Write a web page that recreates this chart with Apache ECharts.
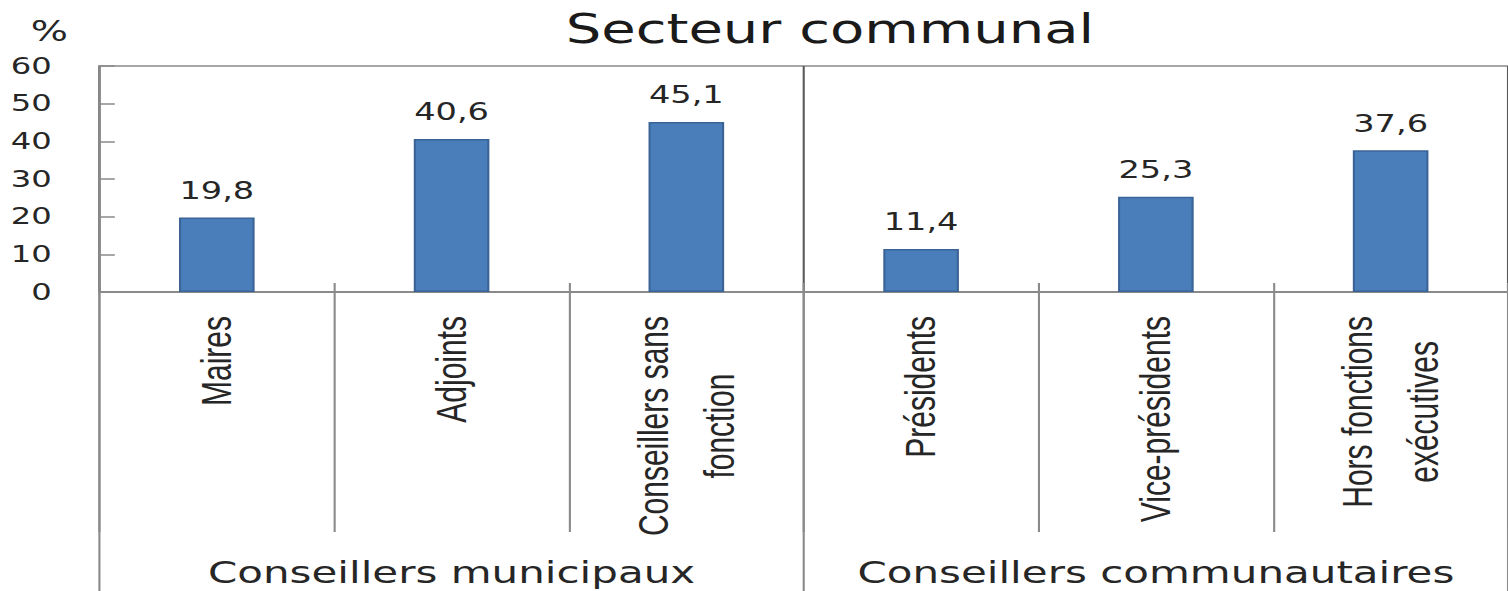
<!DOCTYPE html>
<html>
<head>
<meta charset="utf-8">
<script src="https://cdn.jsdelivr.net/npm/echarts@6/dist/echarts.min.js"></script>
<style>
  html, body { margin: 0; padding: 0; background: #fff; overflow: hidden; }
  /* the source picture is stretched horizontally, so the chart is drawn narrower and scaled */
  #main { width: 1077px; height: 591px; transform: scaleX(1.4002); transform-origin: 0 0; }
</style>
</head>
<body>
<div id="main"></div>
<script>
  // données
  const categories = ['Maires', 'Adjoints', 'Conseillers sans\nfonction', 'Présidents', 'Vice-présidents', 'Hors fonctions\nexécutives'];
  const values = [19.8, 40.6, 45.1, 11.4, 25.3, 37.6];
  const groups = ['Conseillers municipaux', 'Conseillers communautaires'];
  const yMin = 0;
  const yMax = 60;
  const yStep = 10;

  const axisColor = '#8a8a8a';
  const textColor = '#262626';
  const numFont = '"DejaVu Sans"';
  const catFont = '"Liberation Sans"';
  const catSize = 30;

  // largeur d'une ligne, pour centrer les libellés sur deux lignes
  function textWidth(str, font) {
    const ctx = document.createElement('canvas').getContext('2d');
    ctx.font = font;
    return ctx.measureText(str).width;
  }

  // each line of a two-line label gets its own style, padded so the lines are centred
  const rich = {};
  categories.forEach(function (c, i) {
    const lines = c.split('\n');
    if (lines.length > 1) {
      const ws = lines.map(function (l) { return textWidth(l, catSize + 'px ' + catFont); });
      const maxW = Math.max.apply(null, ws);
      lines.forEach(function (l, j) {
        rich['l' + i + '_' + j] = {
          fontSize: catSize, fontFamily: catFont, lineHeight: 47, color: textColor,
          padding: [0, (maxW - ws[j]) / 2, 0, (maxW - ws[j]) / 2]
        };
      });
    }
  });

  const chart = echarts.init(document.getElementById('main'), null, { renderer: 'svg' });

  chart.setOption({
    animation: false,
    title: [
      {
        text: 'Secteur communal',
        left: 399,
        top: 4,
        textStyle: { fontFamily: numFont, fontSize: 40, fontWeight: 'normal', color: '#1a1a1a' }
      },
      {
        text: '%',
        left: 17,
        top: 12,
        textStyle: { fontFamily: numFont, fontSize: 28, fontWeight: 'normal', color: textColor }
      }
    ],
    grid: {
      left: 71,
      right: -9,
      top: 66,
      bottom: 299,
      show: true,
      borderColor: axisColor,
      borderWidth: 1.5
    },
    xAxis: [
      {
        type: 'category',
        data: categories,
        position: 'bottom',
        axisLine: { show: true, lineStyle: { color: axisColor, width: 2 } },
        axisTick: { show: true, length: 240, lineStyle: { color: axisColor, width: 1.5 } },
        axisLabel: {
          interval: 0,
          rotate: 90,
          margin: 24,
          fontFamily: catFont,
          fontSize: catSize,
          color: textColor,
          rich: rich,
          formatter: function (v, i) {
            const lines = v.split('\n');
            if (lines.length === 1) return v;
            return lines.map(function (l, j) { return '{l' + i + '_' + j + '|' + l + '}'; }).join('\n');
          }
        }
      },
      {
        type: 'category',
        data: groups,
        position: 'bottom',
        axisLine: { show: false },
        axisTick: { show: true, length: 299, lineStyle: { color: axisColor, width: 1.5 } },
        splitLine: { show: true, lineStyle: { color: '#5a5a5a', width: 1.5 } },
        axisLabel: {
          interval: 0,
          margin: 266,
          fontFamily: numFont,
          fontSize: 30,
          color: textColor
        }
      },
      {
        type: 'category',
        data: categories,
        position: 'bottom',
        axisLine: { show: false },
        axisTick: { show: true, inside: true, length: 9, lineStyle: { color: axisColor, width: 1.5 } },
        axisLabel: { show: false }
      }
    ],
    yAxis: {
      type: 'value',
      min: yMin,
      max: yMax,
      interval: yStep,
      splitLine: { show: false },
      axisLine: { show: true, lineStyle: { color: axisColor, width: 1.5 } },
      axisTick: { show: true, inside: true, length: 11, lineStyle: { color: axisColor, width: 1.5 } },
      axisLabel: {
        margin: 34,
        fontFamily: numFont,
        fontSize: 23,
        color: textColor
      }
    },
    series: [
      {
        type: 'bar',
        xAxisIndex: 0,
        data: values,
        barWidth: 54,
        itemStyle: { color: '#4a7ebb', borderColor: '#3a6396', borderWidth: 1.5 },
        label: {
          show: true,
          position: 'top',
          distance: 15,
          fontFamily: numFont,
          fontSize: 24,
          color: textColor,
          formatter: function (p) { return String(p.value).replace('.', ','); }
        }
      }
    ]
  });
</script>
</body>
</html>
